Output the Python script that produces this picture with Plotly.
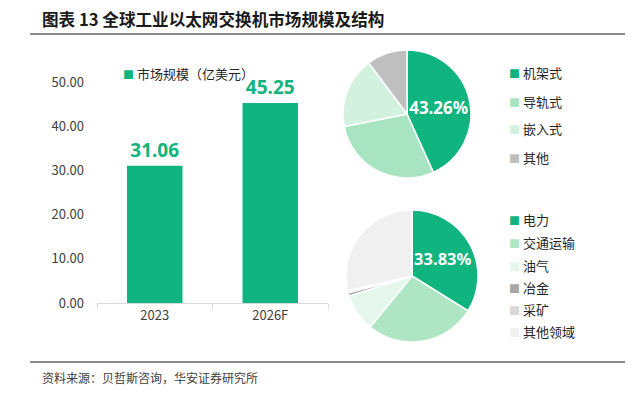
import plotly.graph_objects as go

W, H = 633, 394
FONT = "Noto Sans CJK SC"
NUM_FONT = "Noto Sans"
OFFSET = 8  # page body margin

title_text = "图表 13 全球工业以太网交换机市场规模及结构"
source_text = "资料来源：贝哲斯咨询，华安证券研究所"

years = ["2023", "2026F"]
market_size = [31.06, 45.25]
bar_name = "市场规模（亿美元）"
y_ticks = [0, 10, 20, 30, 40, 50]

type_labels = ["机架式", "导轨式", "嵌入式", "其他"]
type_values = [43.26, 28.6, 17.9, 10.24]
type_colors = ["#10B47E", "#A9E4C2", "#D2F1DE", "#BFBFBF"]

field_labels = ["电力", "交通运输", "油气", "冶金", "采矿", "其他领域"]
field_values = [33.83, 27.1, 9.2, 0.8, 0.5, 28.57]
field_colors = ["#10B47E", "#AEE6C4", "#E5F7EC", "#A6A6A6", "#D9D9D9", "#F0F0F0"]

GREEN = "#10B47E"

def px_x(p):
    return (p - OFFSET) / W

def px_y(p):
    return 1 - (p - OFFSET) / H

fig = go.Figure()

fig.add_trace(go.Bar(
    x=years, y=market_size, name=bar_name,
    marker=dict(color=GREEN, line=dict(width=0)),
    width=0.48,
    text=[f"{v:.2f}" for v in market_size],
    textposition="outside",
    textfont=dict(family=NUM_FONT, size=19, color=GREEN, weight="bold"),
    cliponaxis=False,
    showlegend=False,
))

def pie_text(vals):
    return [f"{vals[0]:.2f}%"] + [""] * (len(vals) - 1)

fig.add_trace(go.Pie(
    labels=type_labels, values=type_values, sort=False, direction="clockwise",
    rotation=0,
    marker=dict(colors=type_colors, line=dict(color="white", width=1.5)),
    text=pie_text(type_values), textinfo="text", textposition="inside",
    insidetextorientation="horizontal",
    textfont=dict(family=NUM_FONT, size=17, color="white", weight="bold"),
    domain=dict(x=[px_x(343), px_x(471)], y=[px_y(178), px_y(50)]),
    showlegend=False, hoverinfo="label+value",
))

fig.add_trace(go.Pie(
    labels=field_labels, values=field_values, sort=False, direction="clockwise",
    rotation=0,
    marker=dict(colors=field_colors, line=dict(color="white", width=1.5)),
    text=pie_text(field_values), textinfo="text", textposition="inside",
    insidetextorientation="horizontal",
    textfont=dict(family=NUM_FONT, size=17, color="white", weight="bold"),
    domain=dict(x=[px_x(346), px_x(478)], y=[px_y(342), px_y(210)]),
    showlegend=False, hoverinfo="label+value",
))

annotations = []
annotations.append(dict(text=f"<b>{title_text}</b>", x=px_x(40), y=px_y(19), xref="paper", yref="paper",
                        xanchor="left", yanchor="middle", showarrow=False,
                        font=dict(family=FONT, size=16.6, color="#1a1a1a")))
annotations.append(dict(text=source_text, x=px_x(40), y=px_y(377), xref="paper", yref="paper",
                        xanchor="left", yanchor="middle", showarrow=False,
                        font=dict(family=FONT, size=12, color="#404040")))

def legend_item(label, color, x, y):
    annotations.append(dict(
        text=f"<span style='color:{color}; font-size:11px'>■</span> {label}",
        x=px_x(x), y=px_y(y), xref="paper", yref="paper",
        xanchor="left", yanchor="middle", showarrow=False,
        font=dict(family=FONT, size=13, color="#262626")))

legend_item(bar_name, GREEN, 121, 73)
top_ys = [72, 101, 129, 158]
for lab, col, yy in zip(type_labels, type_colors, top_ys):
    legend_item(lab, col, 507, yy)
bot_ys = [220, 243, 265, 287, 309, 331]
for lab, col, yy in zip(field_labels, field_colors, bot_ys):
    legend_item(lab, col, 507, yy)

shapes = [
    dict(type="line", xref="paper", yref="paper", x0=px_x(30), x1=px_x(628), y0=px_y(34), y1=px_y(34),
         line=dict(color="#8c8c8c", width=2)),
    dict(type="line", xref="paper", yref="paper", x0=px_x(30), x1=px_x(628), y0=px_y(362), y1=px_y(362),
         line=dict(color="#8c8c8c", width=2)),
]

fig.update_layout(
    width=W, height=H, margin=dict(l=0, r=0, t=0, b=0, pad=0, autoexpand=False),
    paper_bgcolor="white", plot_bgcolor="white",
    font=dict(family=FONT, color="#404040"),
    showlegend=False,
    annotations=annotations, shapes=shapes,
    xaxis=dict(domain=[px_x(97), px_x(328)], showgrid=False, zeroline=False,
               showline=True, linecolor="#d9d9d9", linewidth=1, automargin=False,
               ticks="outside", ticklen=5, tickcolor="#d9d9d9", tickson="boundaries",
               tickfont=dict(family=FONT, size=13, color="#404040"), fixedrange=True),
    yaxis=dict(domain=[px_y(303), px_y(82)], range=[0, 50], tickvals=y_ticks, automargin=False,
               ticktext=[f"{v:.2f}" for v in y_ticks], showgrid=False, zeroline=False,
               showline=False, ticks="", ticklabelstandoff=12,
               tickfont=dict(family=FONT, size=13, color="#404040"), fixedrange=True),
)

fig.write_html("out.html")
